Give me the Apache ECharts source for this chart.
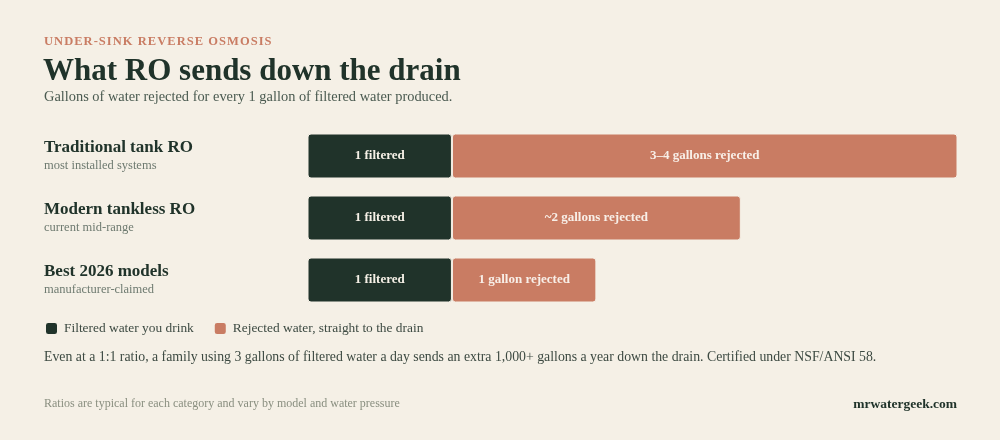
<!DOCTYPE html>
<html><head><meta charset="utf-8">
<script src="https://cdn.jsdelivr.net/npm/echarts@6/dist/echarts.min.js"></script>
<style>html,body{margin:0;padding:0;background:#f5f0e6;}#c{width:1000px;height:440px;}</style>
</head><body><div id="c"></div>
<script>
const categories = ['Traditional tank RO', 'Modern tankless RO', 'Best 2026 models'];
const subLabels = ['most installed systems', 'current mid-range', 'manufacturer-claimed'];
const filtered = [1, 1, 1];
const rejected = [3.5, 2, 1];
const filteredLabels = ['1 filtered', '1 filtered', '1 filtered'];
const rejectedLabels = ['3–4 gallons rejected', '~2 gallons rejected', '1 gallon rejected'];
const seriesNames = ['Filtered water you drink', 'Rejected water, straight to the drain'];

const BG = '#f5f0e6', DARK = '#20332a', SALMON = '#c97c63';
const SERIF = '"Liberation Serif", "DejaVu Serif", serif';
const spaced = s => s.split('').join('\u200A');

const chart = echarts.init(document.getElementById('c'), null, {renderer: 'canvas'});
chart.setOption({
  backgroundColor: BG,
  animation: false,
  textStyle: {fontFamily: SERIF},
  title: [
    {text: spaced('UNDER-SINK REVERSE OSMOSIS'), left: 44, top: 35, padding: 0,
     textStyle: {fontFamily: SERIF, fontSize: 12.5, fontWeight: 'bold', color: SALMON}},
    {text: 'What RO sends down the drain', left: 43, top: 56, padding: 0,
     textStyle: {fontFamily: SERIF, fontSize: 31, fontWeight: 'bold', color: DARK}},
    {text: 'Gallons of water rejected for every 1 gallon of filtered water produced.', left: 44, top: 90, padding: 0,
     textStyle: {fontFamily: SERIF, fontSize: 14.4, fontWeight: 'normal', color: '#4a5a50'}},
    {text: 'Even at a 1:1 ratio, a family using 3 gallons of filtered water a day sends an extra 1,000+ gallons a year down the drain. Certified under NSF/ANSI 58.', left: 44, top: 350, padding: 0,
     textStyle: {fontFamily: SERIF, fontSize: 13.8, fontWeight: 'normal', color: '#3d4a42'}},
    {text: 'Ratios are typical for each category and vary by model and water pressure', left: 44, top: 398, padding: 0,
     textStyle: {fontFamily: SERIF, fontSize: 12, fontWeight: 'normal', color: '#8a8f80'}},
    {text: 'mrwatergeek.com', right: 43, top: 398, padding: 0,
     textStyle: {fontFamily: SERIF, fontSize: 13.5, fontWeight: 'bold', color: DARK}}
  ],
  legend: {
    left: 44, top: 321, padding: 0, icon: 'roundRect', itemWidth: 13, itemHeight: 13, itemGap: 19,
    textStyle: {fontFamily: SERIF, fontSize: 13.4, color: '#3d4a42', padding: [0, 0, 0, 1]},
    data: seriesNames
  },
  grid: {left: 307.5, right: 42.5, top: 125, height: 186, containLabel: false},
  xAxis: {type: 'value', min: 0, max: 4.5, show: false},
  yAxis: {
    type: 'category', inverse: true, data: categories,
    axisLine: {show: false}, axisTick: {show: false}, splitLine: {show: false},
    axisLabel: {
      margin: 263.5, align: 'left',
      formatter: (v, i) => '{a|' + v + '}\n{b|' + subLabels[i] + '}',
      rich: {
        a: {fontFamily: SERIF, fontSize: 17, fontWeight: 'bold', color: DARK, lineHeight: 19},
        b: {fontFamily: SERIF, fontSize: 12.5, color: '#6e7a70', lineHeight: 16}
      }
    }
  },
  series: [
    {name: seriesNames[0], type: 'bar', stack: 's', barWidth: 45, data: filtered,
     itemStyle: {color: DARK, borderRadius: 3, borderColor: BG, borderWidth: 1},
     label: {show: true, position: 'inside', formatter: p => filteredLabels[p.dataIndex],
       fontFamily: SERIF, fontSize: 13, fontWeight: 'bold', color: '#f5f0e6'}},
    {name: seriesNames[1], type: 'bar', stack: 's', barWidth: 45, data: rejected,
     itemStyle: {color: SALMON, borderRadius: 3, borderColor: BG, borderWidth: 1},
     label: {show: true, position: 'inside', formatter: p => rejectedLabels[p.dataIndex],
       fontFamily: SERIF, fontSize: 13, fontWeight: 'bold', color: '#f8efe8'}}
  ]
});
</script></body></html>
